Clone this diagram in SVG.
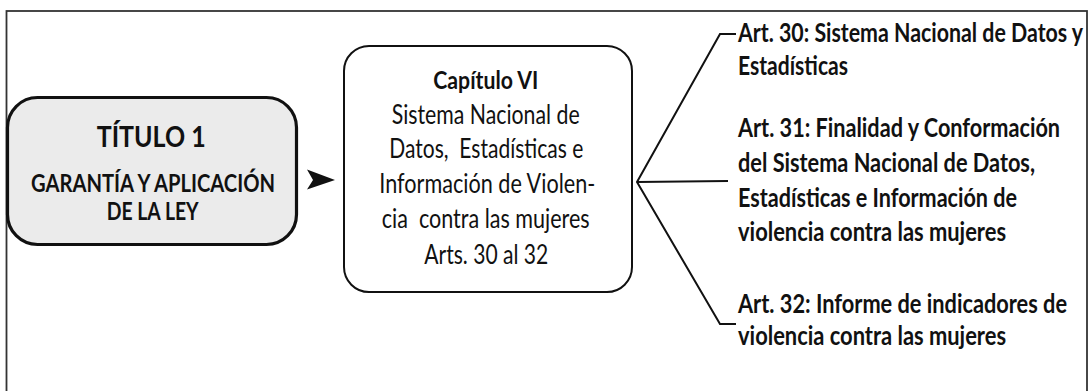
<svg xmlns="http://www.w3.org/2000/svg" width="1090" height="391" viewBox="0 0 1090 391">
<style>
text { font-family: Lato, "Liberation Sans", sans-serif; fill: #111; white-space: pre; }
.reg { font-size: 27px; }
.b { font-weight: bold; }
.art { font-size: 26px; font-weight: bold; }
.conn { fill: none; stroke: #111; stroke-width: 2; }
</style>
<rect x="6.5" y="11" width="1080.5" height="400" fill="#fff" stroke="#333" stroke-width="1.8"/>
<g id="titulo">
  <rect x="7.5" y="97.5" width="289" height="147" rx="30" ry="30" fill="#ebebeb" stroke="#111" stroke-width="3.2"/>
  <text class="b" x="96.7" y="147" font-size="28" textLength="109" lengthAdjust="spacingAndGlyphs">TÍTULO 1</text>
  <text class="b" x="31" y="192" font-size="24" textLength="244" lengthAdjust="spacingAndGlyphs">GARANTÍA Y APLICACIÓN</text>
  <text class="b" x="106.7" y="220" font-size="24" textLength="92" lengthAdjust="spacingAndGlyphs">DE LA LEY</text>
</g>
<g id="capitulo">
  <rect x="344" y="46" width="288" height="246" rx="25" ry="25" fill="#fff" stroke="#111" stroke-width="2"/>
  <text class="b" x="433.3" y="89" font-size="24.5" textLength="105" lengthAdjust="spacingAndGlyphs">Capítulo VI</text>
  <text class="reg" x="391.7" y="123.5" textLength="188" lengthAdjust="spacingAndGlyphs">Sistema Nacional de</text>
  <text class="reg" x="389.3" y="158" textLength="194" lengthAdjust="spacingAndGlyphs">Datos,  Estadísticas e</text>
  <text class="reg" x="379.3" y="193" textLength="216" lengthAdjust="spacingAndGlyphs">Información de Violen-</text>
  <text class="reg" x="381.7" y="228" textLength="208" lengthAdjust="spacingAndGlyphs">cia  contra las mujeres</text>
  <text class="reg" x="424.3" y="264" textLength="124" lengthAdjust="spacingAndGlyphs">Arts. 30 al 32</text>
</g>
<g id="art30" transform="scale(0.83,1)">
  <text class="art" x="889.2" y="42" textLength="415.7" lengthAdjust="spacingAndGlyphs">Art. 30: Sistema Nacional de Datos y</text>
  <text class="art" x="889.2" y="75" textLength="132.5" lengthAdjust="spacingAndGlyphs">Estadísticas</text>
</g>
<g id="art31" transform="scale(0.83,1)">
  <text class="art" x="889.2" y="137" textLength="388" lengthAdjust="spacingAndGlyphs">Art. 31: Finalidad y Conformación</text>
  <text class="art" x="889.2" y="172" textLength="357.8" lengthAdjust="spacingAndGlyphs">del Sistema Nacional de Datos,</text>
  <text class="art" x="889.2" y="207" textLength="336.1" lengthAdjust="spacingAndGlyphs">Estadísticas e Información de</text>
  <text class="art" x="889.2" y="241" textLength="322.9" lengthAdjust="spacingAndGlyphs">violencia contra las mujeres</text>
</g>
<g id="art32" transform="scale(0.83,1)">
  <text class="art" x="889.2" y="313" textLength="396.4" lengthAdjust="spacingAndGlyphs">Art. 32: Informe de indicadores de</text>
  <text class="art" x="889.2" y="345" textLength="322.9" lengthAdjust="spacingAndGlyphs">violencia contra las mujeres</text>
</g>
<g id="connectors">
  <polygon points="307,169.5 335,180 307,189.5 313,180" fill="#111"/>
  <polyline class="conn" points="736,34 720,34 637,182 720,324 736,324"/>
  <line class="conn" x1="637" y1="182" x2="728" y2="181"/>
</g>
</svg>
